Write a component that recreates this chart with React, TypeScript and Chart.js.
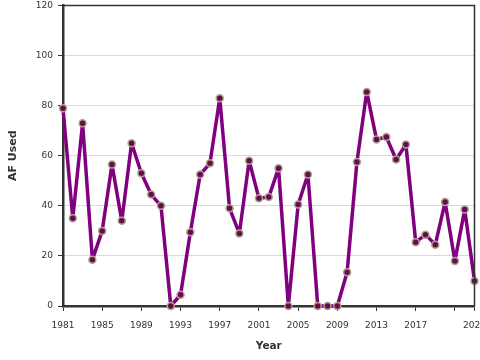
import React, { useEffect, useRef } from "react";
import { Chart, registerables } from "chart.js";

Chart.register(...registerables);

const years: number[] = [
  1981, 1982, 1983, 1984, 1985, 1986, 1987, 1988, 1989, 1990,
  1991, 1992, 1993, 1994, 1995, 1996, 1997, 1998, 1999, 2000,
  2001, 2002, 2003, 2004, 2005, 2006, 2007, 2008, 2009, 2010,
  2011, 2012, 2013, 2014, 2015, 2016, 2017, 2018, 2019, 2020,
  2021, 2022, 2023,
];
const afUsed: number[] = [
  79, 35, 73, 18.5, 30, 56.5, 34, 65, 53, 44.5,
  40, 0, 4.5, 29.5, 52.5, 57, 83, 39, 29, 58,
  43, 43.5, 55, 0, 40.5, 52.5, 0, 0, 0, 13.5,
  57.5, 85.5, 66.5, 67.5, 58.5, 64.5, 25.5, 28.5, 24.5, 41.5,
  18, 38.5, 10,
];
const xTicks: number[] = [1981, 1985, 1989, 1993, 1997, 2001, 2005, 2009, 2013, 2017, 2021, 2023];
const hiddenXLabels: number[] = [2021];
const yTicks: number[] = [0, 20, 40, 60, 80, 100, 120];

const framePlugin = {
  id: "frame",
  afterDraw(chart: any) {
    const { ctx, chartArea } = chart;
    ctx.save();
    ctx.strokeStyle = "#333";
    ctx.lineWidth = 1.5;
    ctx.beginPath();
    ctx.moveTo(chartArea.left, chartArea.top);
    ctx.lineTo(chartArea.right, chartArea.top);
    ctx.lineTo(chartArea.right, chartArea.bottom);
    ctx.stroke();
    ctx.restore();
  },
};

export default function App() {
  const ref = useRef<HTMLCanvasElement | null>(null);
  useEffect(() => {
    if (!ref.current) return;
    const font = "'DejaVu Sans', sans-serif";
    const chart = new Chart(ref.current, {
      type: "line",
      data: {
        datasets: [
          {
            label: "AF Used",
            data: years.map((y, i) => ({ x: y, y: afUsed[i] })),
            borderColor: "#800080",
            borderWidth: 3.5,
            borderJoinStyle: "round",
            borderCapStyle: "round",
            pointBackgroundColor: "#5e0f52",
            pointBorderColor: "#b5a285",
            pointBorderWidth: 1.5,
            pointRadius: 3.5,
            tension: 0,
            clip: false as any,
          },
        ],
      },
      options: {
        animation: false,
        responsive: false,
        maintainAspectRatio: false,
        layout: { padding: { left: 0, right: 5, top: 4, bottom: 0 } },
        plugins: { legend: { display: false }, tooltip: { enabled: false } },
        scales: {
          x: {
            type: "linear",
            min: 1981,
            max: 2023,
            afterBuildTicks: (axis: any) => {
              axis.ticks = xTicks.map((v) => ({ value: v }));
            },
            afterFit: (axis: any) => {
              axis.height = 54;
              axis.paddingLeft = 0;
              axis.paddingRight = 0;
            },
            ticks: {
              autoSkip: false,
              maxRotation: 0,
              color: "#333",
              font: { family: font, size: 9 },
              padding: 9,
              callback: (v: any) => (hiddenXLabels.includes(Number(v)) ? "" : String(v)),
            },
            grid: {
              drawOnChartArea: false,
              drawTicks: true,
              tickLength: 5,
              tickColor: "#333",
              tickWidth: 1,
            },
            border: { color: "#333", width: 2.5 },
            title: {
              display: true,
              text: "Year",
              color: "#333",
              font: { family: font, size: 10.5, weight: "bold" },
              padding: { top: 4, bottom: 7 },
            },
          },
          y: {
            min: 0,
            max: 120,
            afterBuildTicks: (axis: any) => {
              axis.ticks = yTicks.map((v) => ({ value: v }));
            },
            afterFit: (axis: any) => {
              axis.width = 63;
              axis.paddingTop = 0;
              axis.paddingBottom = 0;
            },
            ticks: {
              color: "#333",
              font: { family: font, size: 9 },
              padding: 5,
            },
            grid: {
              color: "#d9d9d9",
              lineWidth: 1,
              drawTicks: true,
              tickLength: 5,
              tickColor: "#333",
            },
            border: { color: "#333", width: 2.5 },
            title: {
              display: true,
              text: "AF Used",
              color: "#333",
              font: { family: font, size: 11, weight: "bold" },
              padding: { top: 7, bottom: 4 },
            },
          },
        },
      },
      plugins: [framePlugin],
    });
    return () => chart.destroy();
  }, []);
  return (
    <div
      style={{
        position: "fixed",
        left: 0,
        top: 0,
        width: 480,
        height: 360,
        overflow: "hidden",
        background: "#fff",
      }}
    >
      <canvas
        ref={ref}
        width={480}
        height={360}
        style={{ display: "block", position: "absolute", left: 0, top: 0 }}
      />
    </div>
  );
}
